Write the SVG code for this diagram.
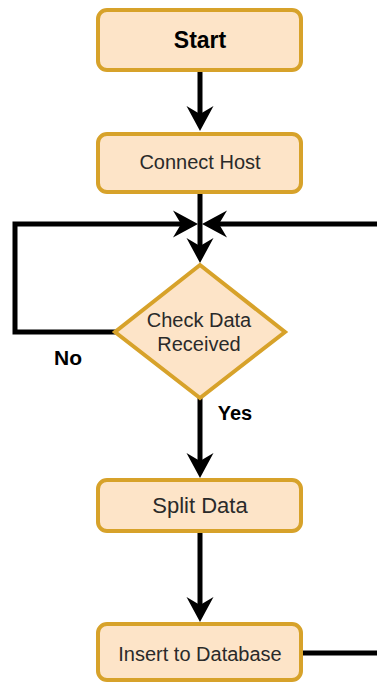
<svg xmlns="http://www.w3.org/2000/svg" width="377" height="683" viewBox="0 0 377 683">
  <defs>
    <style>
      .box { fill: #fde4c8; stroke: #d7a22a; stroke-width: 4; }
      .label { font-family: "Liberation Sans", Arial, sans-serif; font-size: 20px; fill: #2a2a2a; text-anchor: middle; }
      .bold { font-weight: bold; fill: #000; }
      .edge { fill: none; stroke: #000; stroke-width: 5; stroke-linejoin: miter; }
    </style>
    <!-- classic arrowhead; tip sits 14px beyond the path end -->
    <marker id="arrow" markerUnits="userSpaceOnUse" viewBox="-26 -15 28 30" markerWidth="28" markerHeight="30" refX="-14" refY="0" orient="auto">
      <path d="M0,0 L-25,-13.5 L-17,0 L-25,13.5 Z" fill="#000"/>
    </marker>
  </defs>
  <rect width="377" height="683" fill="#fff"/>

  <g id="connectors">
    <!-- Start to Connect Host -->
    <path class="edge" d="M200,71 V117" marker-end="url(#arrow)"/>
    <!-- Connect Host to decision -->
    <path class="edge" d="M200,193 V249" marker-end="url(#arrow)"/>
    <!-- No branch loops back -->
    <path class="edge" d="M116,332 H15 V224 H184" marker-end="url(#arrow)"/>
    <!-- Yes branch -->
    <path class="edge" d="M200,398 V464" marker-end="url(#arrow)"/>
    <!-- Split Data to Insert -->
    <path class="edge" d="M200,532 V608" marker-end="url(#arrow)"/>
    <!-- Insert returns to the loop -->
    <path class="edge" d="M302,653 H380"/>
    <path class="edge" d="M380,224 H216" marker-end="url(#arrow)"/>
  </g>

  <g id="start">
    <rect class="box" x="98" y="10" width="203" height="60" rx="9"/>
    <text class="label bold" x="200" y="48" style="font-size:23px">Start</text>
  </g>

  <g id="connect-host">
    <rect class="box" x="98" y="134" width="203" height="58" rx="9"/>
    <text class="label" x="200" y="169">Connect Host</text>
  </g>

  <g id="check-data">
    <polygon class="box" points="200,265 285,332 200,398 115,332"/>
    <text class="label" x="199" y="327">Check Data</text>
    <text class="label" x="199" y="351">Received</text>
  </g>

  <g id="split-data">
    <rect class="box" x="98" y="480" width="203" height="51" rx="9"/>
    <text class="label" x="200" y="513" style="font-size:22px">Split Data</text>
  </g>

  <g id="insert-db">
    <rect class="box" x="98" y="624" width="203" height="56" rx="9"/>
    <text class="label" x="200" y="661">Insert to Database</text>
  </g>

  <g id="edge-labels">
    <text class="label bold" x="68" y="365" style="font-size:21px">No</text>
    <text class="label bold" x="235" y="420">Yes</text>
  </g>
</svg>
